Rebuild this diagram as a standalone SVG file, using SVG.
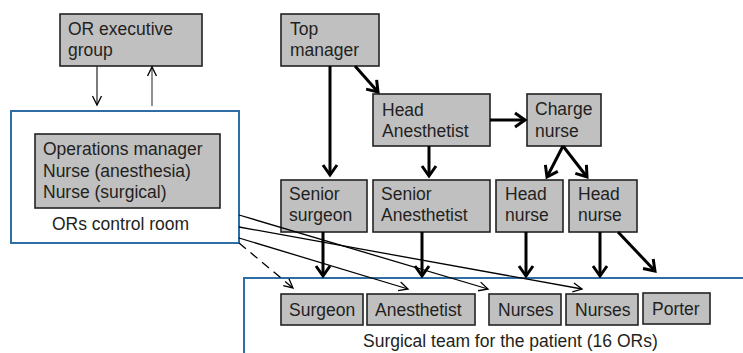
<svg xmlns="http://www.w3.org/2000/svg" width="743" height="353" viewBox="0 0 743 353">
<style>
.box{fill:#c0c0c0;stroke:#222;stroke-width:1.6}
.blue{fill:#fff;stroke:#2f6ea5;stroke-width:2}
text{font-family:"Liberation Sans",Arial,sans-serif;font-size:17.5px;fill:#231f20}
.thick{stroke:#000;stroke-width:3;fill:none;marker-end:url(#ah)}
.thin{stroke:#000;stroke-width:1.3;fill:none;marker-end:url(#at)}
.dash{stroke-dasharray:9,6}
</style>
<defs>
<marker id="ah" markerUnits="userSpaceOnUse" markerWidth="24" markerHeight="24" viewBox="-12 -12 24 24" refX="0" refY="0" orient="auto" overflow="visible">
<path d="M-10,-7 L0,0 L-10,7" fill="none" stroke="#000" stroke-width="3"/>
</marker>
<marker id="at" markerUnits="userSpaceOnUse" markerWidth="20" markerHeight="20" viewBox="-10 -10 20 20" refX="0" refY="0" orient="auto" overflow="visible">
<path d="M-9,-4.5 L0,0 L-9,4.5" fill="none" stroke="#000" stroke-width="1.3"/>
</marker>
</defs>

<g id="surgical-team">
<rect class="blue" x="244" y="278" width="600" height="200"/>
<text x="363" y="347">Surgical team for the patient (16 ORs)</text>
</g>

<g id="control-room">
<rect class="blue" x="11" y="111" width="228" height="132"/>
<rect class="box" x="35" y="134" width="185" height="74"/>
<text x="43" y="155">Operations manager</text>
<text x="43" y="177">Nurse (anesthesia)</text>
<text x="43" y="198">Nurse (surgical)</text>
<text x="52" y="230">ORs control room</text>
</g>

<g id="or-executive">
<rect class="box" x="60" y="14" width="142" height="52"/>
<text x="68" y="35">OR executive</text>
<text x="68" y="56">group</text>
</g>

<g id="top-manager">
<rect class="box" x="281" y="14" width="98" height="52"/>
<text x="290" y="35">Top</text>
<text x="290" y="56">manager</text>
</g>

<g id="head-anesthetist">
<rect class="box" x="373" y="94" width="117" height="52"/>
<text x="382" y="116">Head</text>
<text x="382" y="137">Anesthetist</text>
</g>

<g id="charge-nurse">
<rect class="box" x="527" y="94" width="74" height="52"/>
<text x="535" y="115">Charge</text>
<text x="535" y="137">nurse</text>
</g>

<g id="senior-surgeon">
<rect class="box" x="281" y="180" width="86" height="52"/>
<text x="289" y="200">Senior</text>
<text x="289" y="221">surgeon</text>
</g>

<g id="senior-anesthetist">
<rect class="box" x="373" y="180" width="117" height="52"/>
<text x="381" y="200">Senior</text>
<text x="381" y="221">Anesthetist</text>
</g>

<g id="head-nurse-1">
<rect class="box" x="496" y="180" width="67" height="52"/>
<text x="505" y="200">Head</text>
<text x="505" y="221">nurse</text>
</g>

<g id="head-nurse-2">
<rect class="box" x="569" y="180" width="68" height="52"/>
<text x="578" y="200">Head</text>
<text x="578" y="221">nurse</text>
</g>

<g id="surgeon">
<rect class="box" x="281" y="294" width="82" height="31"/>
<text x="289" y="316">Surgeon</text>
</g>

<g id="anesthetist">
<rect class="box" x="367" y="294" width="108" height="31"/>
<text x="375" y="316">Anesthetist</text>
</g>

<g id="nurses-1">
<rect class="box" x="489" y="294" width="72" height="31"/>
<text x="498" y="316">Nurses</text>
</g>

<g id="nurses-2">
<rect class="box" x="566" y="294" width="72" height="31"/>
<text x="575" y="316">Nurses</text>
</g>

<g id="porter">
<rect class="box" x="643" y="293" width="67" height="31"/>
<text x="652" y="315">Porter</text>
</g>

<g id="connectors">
<line class="thin" x1="97" y1="66" x2="97" y2="105" style="stroke:#333"/>
<line class="thin" x1="152" y1="106" x2="152" y2="67" style="stroke:#555"/>
<line class="thick" x1="355" y1="66" x2="378" y2="92"/>
<line class="thick" x1="330" y1="66" x2="330" y2="175"/>
<line class="thick" x1="429" y1="146" x2="429" y2="176"/>
<line class="thick" x1="490" y1="120" x2="525" y2="120"/>
<line class="thick" x1="563" y1="146" x2="547" y2="177"/>
<line class="thick" x1="563" y1="146" x2="587" y2="177"/>
<line class="thick" x1="323" y1="232" x2="323" y2="276"/>
<line class="thick" x1="422" y1="232" x2="422" y2="276"/>
<line class="thick" x1="526" y1="232" x2="526" y2="276"/>
<line class="thick" x1="600" y1="232" x2="600" y2="276"/>
<line class="thick" x1="618" y1="232" x2="655" y2="271"/>
<line class="thin" x1="239" y1="215" x2="488" y2="289"/>
<line class="thin" x1="239" y1="227" x2="582" y2="289"/>
<line class="thin" x1="239" y1="238" x2="408" y2="289"/>
<line class="thin dash" x1="239" y1="243" x2="293" y2="288"/>
</g>
</svg>
